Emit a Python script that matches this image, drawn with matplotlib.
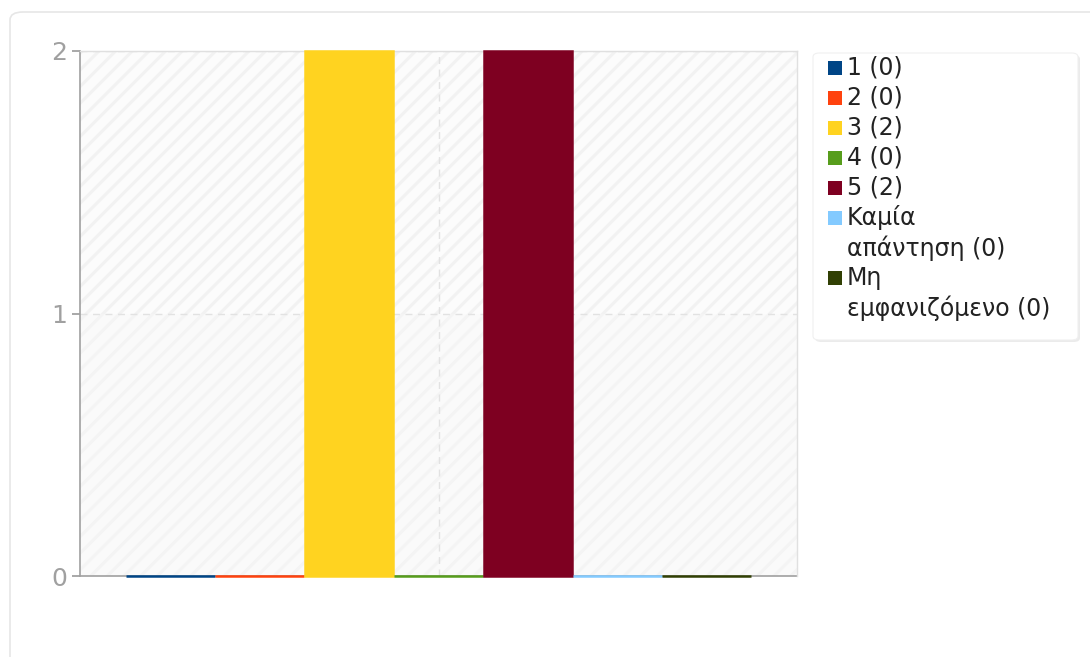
import matplotlib.pyplot as plt
from matplotlib.patches import FancyBboxPatch, Rectangle

# answer categories and counts
labels = ['1', '2', '3', '4', '5', 'Καμία\nαπάντηση', 'Μη\nεμφανιζόμενο']
counts = [0, 0, 2, 0, 2, 0, 0]
colors = ['#004586', '#ff420e', '#ffd320', '#579d1c', '#7e0021', '#83caff', '#314004']
yticks = [0, 1, 2]

plt.rcParams['font.family'] = ['DejaVu Sans']
plt.rcParams['hatch.linewidth'] = 2.2

W, H = 1090, 657
fig = plt.figure(figsize=(W / 100, H / 100), dpi=100)


def fx(px):
    return px / W


def fy(py):
    return 1 - py / H


# card border around the chart
card = FancyBboxPatch((fx(10), fy(700)), 1.2, 688 / H,
                      boxstyle='round,pad=0,rounding_size=0.012',
                      transform=fig.transFigure, facecolor='none',
                      edgecolor='#e6e6e6', linewidth=1.2, zorder=-5)
fig.patches.append(card)

ax = fig.add_axes([fx(80), fy(576), 717 / W, 525 / H])
ax.set_facecolor('none')

# striped background of the plot area
ax.add_patch(Rectangle((0, 0.5), 1, 0.5, transform=ax.transAxes, facecolor='#fcfcfc',
                       edgecolor='#f2f2f2', hatch='//', linewidth=0, zorder=0))
ax.add_patch(Rectangle((0, 0), 1, 0.5, transform=ax.transAxes, facecolor='#fafafa',
                       edgecolor='#f4f4f4', hatch='//', linewidth=0, zorder=0))

x = list(range(len(counts)))
for i in x:
    ax.bar(i, counts[i], width=0.99, color=colors[i], edgecolor=colors[i],
           linewidth=1.8, zorder=3, clip_on=False)

ax.set_xlim(-1.01, 7.01)
ax.set_ylim(0, 2)
ax.set_yticks(yticks)
ax.set_yticklabels([str(t) for t in yticks])
ax.set_xticks([3])
ax.set_xticklabels([''])
ax.tick_params(axis='x', length=0)
ax.tick_params(axis='y', length=5.5, width=1.2, color='#999999', labelcolor='#a0a0a0',
               labelsize=18, pad=4)
ax.grid(True, color='#e2e2e2', linestyle=(0, (5, 4)), linewidth=1, zorder=1)

for s in ['left', 'bottom']:
    ax.spines[s].set_color('#a0a0a0')
    ax.spines[s].set_linewidth(1.2)
    ax.spines[s].set_zorder(2)
for s in ['top', 'right']:
    ax.spines[s].set_color('#e0e0e0')
    ax.spines[s].set_linewidth(1)

# legend box drawn by hand so wrapped labels keep the marker on the first line
shadow = FancyBboxPatch((fx(815), fy(342)), 265 / W, 287 / H,
                        boxstyle='round,pad=0,rounding_size=0.006',
                        transform=fig.transFigure, facecolor='#ebebeb',
                        edgecolor='none', zorder=1)
frame = FancyBboxPatch((fx(813), fy(340)), 265 / W, 287 / H,
                       boxstyle='round,pad=0,rounding_size=0.006',
                       transform=fig.transFigure, facecolor='white',
                       edgecolor='#f0f0f0', linewidth=0.8, zorder=2)
fig.patches.extend([shadow, frame])

row = 0
for i in x:
    lines = labels[i].split('\n')
    lines[-1] = '%s (%d)' % (lines[-1], counts[i])
    yc = 68 + 30 * row
    fig.patches.append(Rectangle((fx(828), fy(yc + 7)), 14 / W, 14 / H,
                                 transform=fig.transFigure, facecolor=colors[i],
                                 edgecolor='none', zorder=3))
    for ln in lines:
        fig.text(fx(847), fy(68 + 30 * row), ln, fontsize=17, color='#222222',
                 va='center', ha='left', zorder=4)
        row += 1

fig.savefig('out.png', dpi=100)
